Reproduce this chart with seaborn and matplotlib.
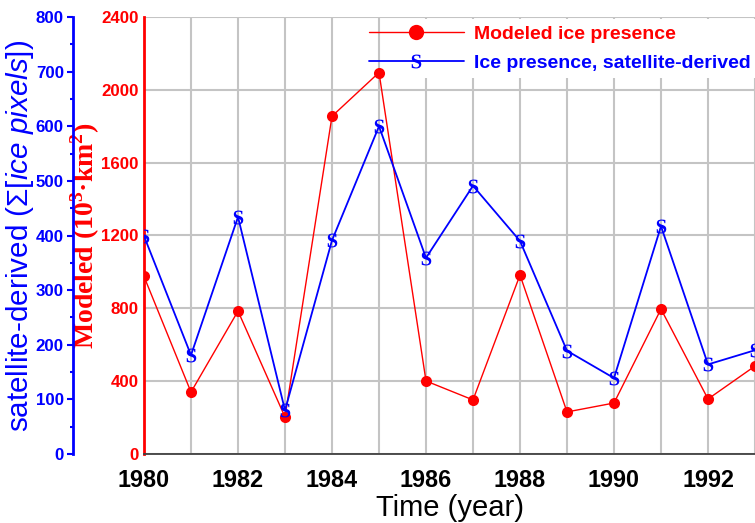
import matplotlib
matplotlib.use("Agg")
import matplotlib.pyplot as plt
from matplotlib.ticker import MultipleLocator
from matplotlib.lines import Line2D
from matplotlib.patches import Rectangle
import seaborn as sns
import pandas as pd

# Annual ice presence series
years = [1980, 1981, 1982, 1983, 1984, 1985, 1986, 1987, 1988, 1989, 1990, 1991, 1992, 1993]
modeled = [975, 340, 785, 203, 1855, 2095, 401, 297, 983, 231, 280, 796, 302, 483]
satellite = [399, 181, 434, 80, 391, 600, 359, 491, 390, 189, 139, 417, 164, 190]

modeled_label = "Modeled ice presence"
satellite_label = "Ice presence, satellite-derived"

df = pd.DataFrame({"year": years, "modeled": modeled, "satellite": satellite})

sns.set_style("white")
plt.rcParams["font.family"] = ["Liberation Sans", "DejaVu Sans"]
plt.rcParams["text.color"] = "black"
plt.rcParams["axes.labelcolor"] = "black"
plt.rcParams["mathtext.fontset"] = "custom"
plt.rcParams["mathtext.rm"] = "Liberation Sans"
plt.rcParams["mathtext.it"] = "Liberation Sans:italic"
plt.rcParams["mathtext.bf"] = "Liberation Serif:bold"

W, H = 755, 523
fig = plt.figure(figsize=(W / 100, H / 100), dpi=100)
x0, x1, y0, y1 = 144, 755, 17, 454
ax = fig.add_axes([x0 / W, 1 - y1 / H, (x1 - x0) / W, (y1 - y0) / H])
ax2 = ax.twinx()

grid_col = "#c4c4c4"
s_marker = r"$\mathbf{S}$"

# modeled series on the red (inner) axis
sns.lineplot(data=df, x="year", y="modeled", ax=ax, color="red", linewidth=1.0,
             marker="o", markersize=8, markeredgewidth=0, legend=False)
# satellite series on the blue (outer) axis
sns.lineplot(data=df, x="year", y="satellite", ax=ax2, color="blue", linewidth=1.3,
             marker=s_marker, markersize=10, markeredgewidth=0, legend=False)

ax.set_xlim(1980, 1993)
ax.set_ylim(0, 2400)
ax2.set_ylim(0, 800)

# x axis
ax.xaxis.set_major_locator(MultipleLocator(2))
ax.xaxis.set_minor_locator(MultipleLocator(1))
ax.tick_params(axis="x", which="both", direction="in", length=5, width=1.2,
               color="#404040", labelcolor="black", labelsize=16.8, pad=11)
for t in ax.get_xticklabels():
    t.set_fontweight("bold")
ax.set_xlabel("Time (year)", fontsize=21, labelpad=1, color="black")

# red axis
ax.yaxis.set_major_locator(MultipleLocator(400))
ax.tick_params(axis="y", which="both", length=0, labelsize=12.2, labelcolor="red", pad=4)
for t in ax.get_yticklabels():
    t.set_fontweight("bold")
ax.set_ylabel(r"Modeled (10$^{\mathbf{3}}$·km$^{\mathbf{2}}$)", color="red",
              fontsize=20, fontweight="bold", fontfamily="Liberation Serif")
ax.yaxis.set_label_coords((102 - x0) / (x1 - x0), 0.5)

ax.grid(True, which="major", axis="y", color=grid_col, linewidth=1.5)
ax.grid(True, which="both", axis="x", color=grid_col, linewidth=1.5)
ax.set_axisbelow(True)

# white panel behind the legend, hiding the grid there
ax.add_patch(Rectangle(((386 - x0) / (x1 - x0), (y1 - 78) / (y1 - y0)),
                       (x1 - 386) / (x1 - x0), (78 - 19) / (y1 - y0),
                       transform=ax.transAxes, facecolor="white", edgecolor="none",
                       zorder=1))

for s in ("top", "right"):
    ax.spines[s].set_visible(False)
ax.spines["left"].set_color("red")
ax.spines["left"].set_linewidth(2)
ax.spines["bottom"].set_color("#404040")
ax.spines["bottom"].set_linewidth(1.3)

# blue axis, moved out to the left
ax2.yaxis.set_ticks_position("left")
ax2.yaxis.set_label_position("left")
for s in ("top", "right", "bottom"):
    ax2.spines[s].set_visible(False)
ax2.spines["left"].set_visible(True)
ax2.spines["left"].set_position(("axes", (73 - x0) / (x1 - x0)))
ax2.spines["left"].set_color("blue")
ax2.spines["left"].set_linewidth(2)
ax2.yaxis.set_major_locator(MultipleLocator(100))
ax2.yaxis.set_minor_locator(MultipleLocator(50))
ax2.tick_params(axis="y", which="major", direction="out", length=4.5, width=1.5,
                color="blue", labelcolor="blue", labelsize=12.2, pad=2)
ax2.tick_params(axis="y", which="minor", direction="out", length=2.5, width=1.5, color="blue")
for t in ax2.get_yticklabels():
    t.set_fontweight("bold")
ax2.set_ylabel("satellite-derived (Σ[" + r"$\mathit{ice\ pixels}$" + "])",
               color="blue", fontsize=21.3)
ax2.yaxis.set_label_coords((36 - x0) / (x1 - x0), 0.5)

# legend
handles = [
    Line2D([], [], color="red", linewidth=1.0, marker="o", markersize=11, markeredgewidth=0),
    Line2D([], [], color="blue", linewidth=1.3, marker=s_marker, markersize=10, markeredgewidth=0),
]
leg = ax2.legend(handles, [modeled_label, satellite_label], loc="upper right",
                 bbox_to_anchor=((W + 9) / W, (H - 12) / H), bbox_transform=fig.transFigure,
                 frameon=False, prop={"weight": "bold", "size": 14},
                 handlelength=4.9, handletextpad=0.5, labelspacing=0.55,
                 borderpad=0.3, borderaxespad=0.4)
leg.get_texts()[0].set_color("red")
leg.get_texts()[1].set_color("blue")

fig.savefig("out.png", dpi=100)
